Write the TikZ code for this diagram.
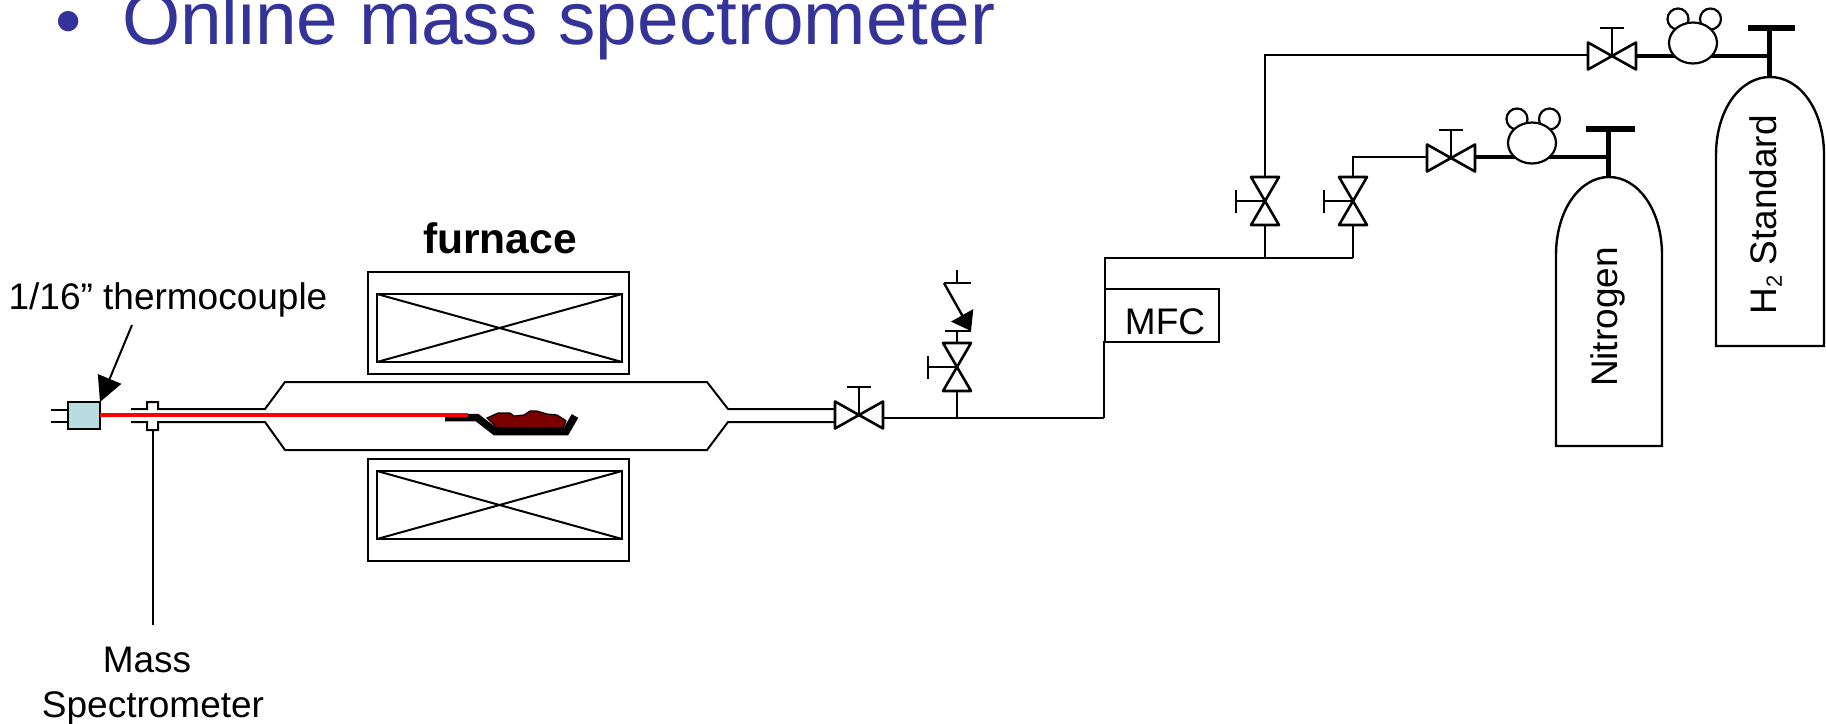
\documentclass[tikz,border=0pt]{standalone}
\usepackage{fontspec}
\setmainfont{Liberation Sans}
\usetikzlibrary{arrows.meta,shapes.geometric}
\definecolor{titleblue}{HTML}{333399}
\definecolor{tcblue}{HTML}{B7DDE0}
\definecolor{boatred}{HTML}{7A0000}
\tikzset{
  pipe/.style={line width=2pt,line join=miter},
  vline/.style={line width=2.6pt,line join=round},
  thick pipe/.style={line width=4.8pt},
  lbl/.style={font=\fontsize{37}{44}\selectfont,inner sep=0pt,text=black},
  boxn/.style={draw,line width=2pt,anchor=north west,inner sep=0pt,outer sep=0pt},
  bign/.style={line width=2.2pt,fill=white,draw,inner sep=0pt,outer sep=0pt},
  wedge/.style={-{Triangle[length=#1,width=25pt]}},
}
% horizontal valve: name,x,y
\newcommand{\hvalve}[3]{\begin{scope}[shift={(#2,#3)}]
  \coordinate (#1) at (0,0); \coordinate (#1-w) at (-24,0); \coordinate (#1-e) at (24,0);
  \coordinate (#1-t) at (0,-28);
  \draw[vline] (-24,-13.5) -- (24,13.5) -- (24,-13.5) -- (-24,13.5) -- cycle;
  \draw[pipe] (#1) -- (#1-t); \draw[line width=2.4pt] (-12,-28) -- (12,-28);
\end{scope}}
% vertical valve
\newcommand{\vvalve}[3]{\begin{scope}[shift={(#2,#3)}]
  \coordinate (#1) at (0,0); \coordinate (#1-n) at (0,-24); \coordinate (#1-s) at (0,24);
  \coordinate (#1-h) at (-29,0);
  \draw[vline] (-14,-24) -- (14,24) -- (-14,24) -- (14,-24) -- cycle;
  \draw[pipe] (#1) -- (#1-h); \draw[line width=2.4pt] (-29,-11.5) -- (-29,11.5);
\end{scope}}
% regulator
\newcommand{\regul}[3]{\begin{scope}[shift={(#2,#3)}]
  \node[bign,circle,minimum size=21pt] (#1-a) at (-15,-24) {};
  \node[bign,circle,minimum size=21pt] (#1-b) at (17.5,-24) {};
  \node[bign,ellipse,minimum width=48pt,minimum height=41pt] (#1) at (0,0) {};
\end{scope}}
\begin{document}
\begin{tikzpicture}[x=1pt,y=-1pt]
\useasboundingbox (0,0) rectangle (1826,723);
\clip (0,0) rectangle (1826,723);
\node[anchor=base,inner sep=0pt,text=titleblue,font=\fontsize{75}{80}\selectfont] (bul) at (68.5,46) {•};
\node[anchor=base west,inner sep=0pt,text=titleblue,font=\fontsize{74.8}{80}\selectfont] (title) at (122,44) {Online mass spectrometer};

% furnace
\node[boxn,minimum width=261pt,minimum height=102pt] (fu) at (368,272) {};
\node[boxn,minimum width=245pt,minimum height=68pt] (fui) at (377,294) {};
\draw[pipe] (fui.north west) -- (fui.south east) (fui.south west) -- (fui.north east);
\node[boxn,minimum width=261pt,minimum height=102pt] (fl) at (368,459) {};
\node[boxn,minimum width=245pt,minimum height=68pt] (fli) at (377,471) {};
\draw[pipe] (fli.north west) -- (fli.south east) (fli.south west) -- (fli.north east);
\node[lbl,font=\fontsize{42.6}{48}\bfseries\selectfont] (furn) at (500,238) {furnace};

% tube
\coordinate (fit) at (152.5,430);
\draw[pipe] (131,409) -- (147,409) -- (147,402) -- (158,402) -- (158,409) -- (265,409) -- (285,382) -- (707,382) -- (728,409) -- (835,409);
\draw[pipe] (131,422) -- (147,422) -- (147,430) -- (158,430) -- (158,422) -- (265,422) -- (285,450) -- (707,450) -- (728,422) -- (835,422);
\coordinate (msend) at (152.5,625);
\draw[pipe] (fit) -- (msend);
\node[lbl,anchor=base] (ms1) at (147,672) {Mass};
\node[lbl,anchor=base] (ms2) at (153,717) {Spectrometer};

% thermocouple
\node[boxn,fill=tcblue,line width=2.2pt,minimum width=32pt,minimum height=27pt] (tc) at (68,402) {};
\coordinate (w1) at (51,410); \coordinate (w2) at (51,422);
\draw[pipe] (w1) -- (w1-|tc.west) (w2) -- (w2-|tc.west);
\coordinate (redend) at (468,415);
\node[lbl] (tclbl) at (168,300) {1/16” thermocouple};
\coordinate (tcarrow) at (132,325);
\draw[pipe,wedge=25pt] (tcarrow) -- (tc.north east);

% boat
\coordinate (b1) at (445,417.5); \coordinate (b2) at (477,417.5); \coordinate (b3) at (495,431.5); \coordinate (b4) at (566,431.5); \coordinate (b5) at (575,416);
\draw[line width=7.5pt,line join=miter] (b1) -- (b2) -- (b3) -- (b4) -- (b5);
\fill[boatred,draw=black,line width=1.2pt] (487,418) -- (498,413) -- (510,413) -- (514,416) -- (524,415) -- (530,411) -- (537,411) -- (547,414) -- (557,415) -- (565,420) -- (566,421) -- (563,428) -- (497,428) -- cycle;
\draw[red,line width=4pt] (tc.east|-redend) -- (redend);

% valves and lines
\hvalve{v1}{859}{415}
\vvalve{v2}{957}{367}
\coordinate (j1) at (957,418); \coordinate (mfcfoot) at (1104,418);
\draw[pipe] (v1-e|-j1) -- (mfcfoot);
\draw[pipe] (v2-s) -- (j1);
\coordinate (pv) at (957,331);
\draw[pipe] (v2-n) -- (pv);
\draw[line width=2.4pt] (945,331) -- (971,331);
\coordinate (st) at (957,283); \coordinate (st2) at (957,270); \coordinate (sa) at (944,283); \coordinate (sb) at (971,283); \coordinate (stip) at (971,331);
\draw[line width=2.4pt] (sa) -- (sb) (st) -- (st2);
\draw[line width=2.4pt,wedge=18pt] (sa) -- (stip);

\node[boxn,minimum width=114pt,minimum height=53pt] (mfc) at (1105,289) {};
\node[lbl] (mfct) at (1165,322) {MFC};
\coordinate (top) at (1105,258); \coordinate (jr) at (1353,258); \coordinate (jm) at (1265,258);
\draw[line width=2.3pt] (mfcfoot) -- (1104,342) -- (mfc.south west) -- (top) -- (jr);
\vvalve{v3}{1265}{201}
\vvalve{v4}{1353}{201}
\draw[pipe] (v3-s) -- (jm);
\draw[pipe] (v4-s) -- (jr);

% nitrogen line
\hvalve{v5}{1451}{158}
\coordinate (c4) at (1353,157);
\draw[pipe] (v4-n) -- (c4) -- (v5-w|-c4);
\coordinate (t1) at (1608,157); \coordinate (t1b) at (1608,129); \coordinate (t1c) at (1608,177);
\draw[thick pipe] (v5-e|-t1) -- (t1);
\regul{r1}{1532}{143}
\draw[line width=5pt] (t1b) -- (t1c);
\draw[line width=6.5pt] (1586,129) -- (1635,129);

% H2 line
\hvalve{v6}{1612}{56}
\coordinate (c3) at (1265,55);
\draw[pipe] (v3-n) -- (c3) -- (v6-w|-c3);
\coordinate (t2) at (1769,56); \coordinate (t2b) at (1769,28); \coordinate (t2c) at (1769,77);
\draw[thick pipe] (v6-e|-t2) -- (t2);
\regul{r2}{1693}{43}
\draw[line width=5pt] (t2b) -- (t2c);
\draw[line width=6.5pt] (1748,28) -- (1795,28);

% cylinders
\draw[line width=2.4pt,line join=miter] (1556,446) -- (1556,255) .. controls (1556,210) and (1580,177) .. (1609,177) .. controls (1638,177) and (1662,210) .. (1662,255) -- (1662,446) -- cycle;
\node[lbl,rotate=90] (n2) at (1607.5,317) {Nitrogen};
\draw[line width=2.4pt,line join=miter] (1716,346) -- (1716,155) .. controls (1716,110) and (1740,77) .. (1770,77) .. controls (1800,77) and (1824,110) .. (1824,155) -- (1824,346) -- cycle;
\node[lbl,rotate=90] (h2) at (1766,215) {H\raisebox{-5pt}{\fontsize{22}{24}\selectfont 2} Standard};
\end{tikzpicture}
\end{document}
